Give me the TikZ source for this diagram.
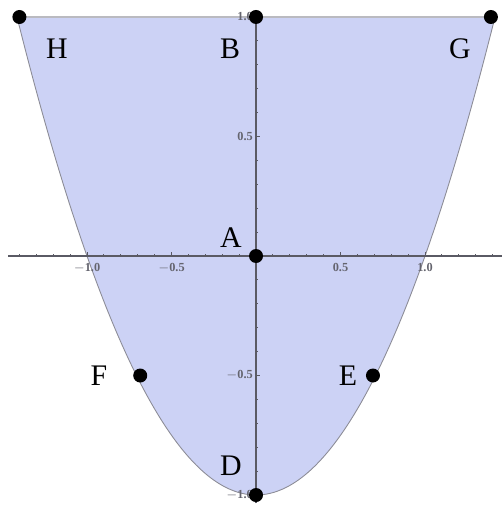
\documentclass[tikz,border=0pt]{standalone}
\usepackage{fontspec}
\setmainfont{Liberation Serif}
\begin{document}
\begin{tikzpicture}[x=3.38cm,y=4.78cm,
  region/.style={fill=regfill,draw=regline,line width=0.5pt},
  axisline/.style={draw=axisgray,line width=0.6pt},
  tickmark/.style={draw=axisgray,line width=0.5pt},
  ticklbl/.style={text=tickgray,font=\fontsize{7}{8}\selectfont\bfseries,inner sep=0.5pt},
  ptdot/.style={circle,fill=black,minimum width=0.27cm,minimum height=0.28cm,inner sep=0pt},
  ptlbl/.style={font=\fontsize{17}{18}\selectfont,inner sep=0pt}]
\definecolor{regfill}{RGB}{204,210,245}
\definecolor{regline}{RGB}{140,140,150}
\definecolor{axisgray}{RGB}{90,90,100}
\definecolor{tickgray}{RGB}{100,100,110}
\useasboundingbox (-1.5148,-1.0418) rectangle (1.4556,1.0711);
% region
\fill[regfill] plot[domain=-1.41421:1.41421,samples=120,smooth] (\x,{\x*\x-1}) -- cycle;
\draw[regline,line width=0.5pt] plot[domain=-1.41421:1.41421,samples=120,smooth] (\x,{\x*\x-1});
\draw[draw=regline!60,line width=0.6pt] (-1.41421,1) -- (1.41421,1);
% axes
\coordinate (xl) at (-1.467,0);
\coordinate (xr) at (1.4556,0);
\coordinate (yb) at (0,-1.035);
\coordinate (yt) at (0,1);
\draw[axisline] (xl) -- (xr);
\draw[axisline] (yb) -- (yt);
\foreach \t in {-14,...,14}{
  \pgfmathsetmacro\len{ifthenelse(mod(abs(\t),5)==0,0.016,0.009)}
  \draw[tickmark] (\t/10,0) -- (\t/10,\len);
}
\foreach \t in {-10,...,10}{
  \pgfmathsetmacro\len{ifthenelse(mod(abs(\t),5)==0,0.022,0.013)}
  \draw[tickmark] (0,\t/10) -- (\len,\t/10);
}
\node[ticklbl] (tx1) at (-1,-0.05) {$-$1.0};
\node[ticklbl] (tx2) at (-0.5,-0.05) {$-$0.5};
\node[ticklbl] (tx3) at (0.5,-0.05) {0.5};
\node[ticklbl] (tx4) at (1,-0.05) {1.0};
\node[ticklbl,anchor=east] (ty1) at (-0.012,0.5) {0.5};
\node[ticklbl,anchor=east] (ty2) at (-0.012,1) {1.0};
\node[ticklbl,anchor=east] (ty3) at (-0.012,-0.5) {$-$0.5};
\node[ticklbl,anchor=east] (ty4) at (-0.012,-1) {$-$1.0};
% points
\node[ptdot] (A) at (0,0) {};
\node[ptdot] (B) at (0,1) {};
\node[ptdot] (D) at (0,-1) {};
\node[ptdot] (E) at (0.692,-0.5) {};
\node[ptdot] (F) at (-0.685,-0.5) {};
\node[ptdot] (G) at (1.39,1) {};
\node[ptdot] (H) at (-1.40,1) {};
% labels
\node[ptlbl] (lH) at (-1.178,0.868) {H};
\node[ptlbl] (lB) at (-0.154,0.868) {B};
\node[ptlbl] (lG) at (1.207,0.868) {G};
\node[ptlbl] (lA) at (-0.148,0.075) {A};
\node[ptlbl] (lF) at (-0.929,-0.502) {F};
\node[ptlbl] (lE) at (0.544,-0.502) {E};
\node[ptlbl] (lD) at (-0.148,-0.879) {D};
\end{tikzpicture}
\end{document}
